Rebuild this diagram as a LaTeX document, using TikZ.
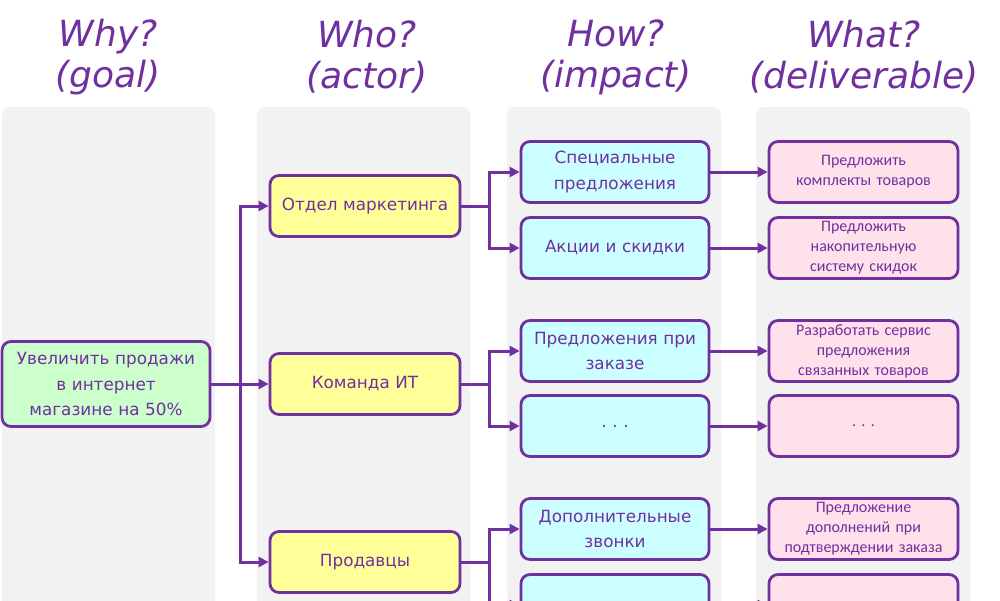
\documentclass[tikz,border=0pt]{standalone}
\usepackage{fontspec}
\setmainfont{DejaVu Sans}
\newfontfamily\delfont{Carlito}
\newfontfamily\hdrfont{DejaVu Sans}
\usetikzlibrary{arrows.meta,calc}
\definecolor{purp}{HTML}{7030A0}
\definecolor{panelgray}{HTML}{F2F2F2}
\definecolor{goalfill}{HTML}{CCFFCC}
\definecolor{actorfill}{HTML}{FFFF99}
\definecolor{impfill}{HTML}{CCFFFF}
\definecolor{delfill}{HTML}{FFE1EB}
\tikzset{
  panel/.style={fill=panelgray,draw=none,rounded corners=8pt},
  hdr/.style={text=purp,font=\hdrfont\itshape\fontsize{36}{41}\selectfont,align=center,inner sep=0pt},
  boxbase/.style={draw=purp,line width=2.8pt,rounded corners=9pt,text=purp,align=center,inner sep=2pt},
  goalbox/.style={boxbase,fill=goalfill,minimum width=208pt,minimum height=85pt,text width=200pt,font=\fontsize{16.8}{25.5}\selectfont},
  actorbox/.style={boxbase,fill=actorfill,minimum width=190pt,minimum height=61pt,text width=182pt,font=\fontsize{16.8}{25.5}\selectfont},
  impbox/.style={boxbase,fill=impfill,minimum width=188pt,minimum height=61pt,text width=180pt,font=\fontsize{16.8}{25.5}\selectfont},
  delbox/.style={boxbase,fill=delfill,minimum width=189pt,minimum height=61pt,text width=181pt,font=\delfont\fontsize{16}{20}\selectfont},
  conn/.style={draw=purp,line width=3pt},
  arr/.style={conn,-{Triangle[length=10pt,width=10pt]}}
}
\begin{document}
\begin{tikzpicture}[x=1pt,y=-1pt]
\useasboundingbox (0,0) rectangle (1000,600);
\clip (0,0) rectangle (1000,600);
\fill[white] (0,0) rectangle (1000,600);
% panels
\path[panel] (2,107) rectangle (215,640);
\path[panel] (257,107) rectangle (470,640);
\path[panel] (507,107) rectangle (721,640);
\path[panel] (756,107) rectangle (970,640);
% headers
\node[hdr] (h1) at (108,57) {Why?\\(goal)};
\node[hdr] (h2) at (367,57) {Who?\\(actor)};
\node[hdr] (h3) at (616,57) {How?\\(impact)};
\node[hdr] (h4) at (864,57) {What?\\(deliverable)};
% goal
\node[goalbox] (g) at (106,384) {Увеличить продажи\\в интернет\\магазине на 50\%};
% actors
\node[actorbox] (a1) at (365,206) {Отдел маркетинга};
\node[actorbox] (a2) at (365,384) {Команда ИТ};
\node[actorbox] (a3) at (365,562) {Продавцы};
% impacts
\node[impbox] (i1) at (615,172) {Специальные\\предложения};
\node[impbox] (i2) at (615,248) {Акции и скидки};
\node[impbox] (i3) at (615,351) {Предложения при\\заказе};
\node[impbox] (i4) at (615,426) {.\ .\ .};
\node[impbox] (i5) at (615,529) {Дополнительные\\звонки};
\node[impbox] (i6) at (615,605) {};
% deliverables
\node[delbox] (d1) at (863.5,172) {Предложить\\комплекты товаров};
\node[delbox] (d2) at (863.5,248) {Предложить\\накопительную\\систему скидок};
\node[delbox] (d3) at (863.5,351) {Разработать сервис\\предложения\\связанных товаров};
\node[delbox] (d4) at (863.5,426) {.\ .\ .};
\node[delbox] (d5) at (863.5,529) {Предложение\\дополнений при\\подтверждении заказа};
\node[delbox] (d6) at (863.5,605) {};
% junctions
\coordinate (j0) at (240,384);
\coordinate (j1) at (489,206);
\coordinate (j2) at (489,384);
\coordinate (j3) at (489,562);
% connectors goal -> actors
\draw[conn] (g.east) -- (j0);
\draw[arr] (j0) |- (a1.west);
\draw[arr] (j0) -- (a2.west);
\draw[arr] (j0) |- (a3.west);
% actors -> impacts
\draw[conn] (a1.east) -- (j1);
\draw[arr] (j1) |- (i1.west);
\draw[arr] (j1) |- (i2.west);
\draw[conn] (a2.east) -- (j2);
\draw[arr] (j2) |- (i3.west);
\draw[arr] (j2) |- (i4.west);
\draw[conn] (a3.east) -- (j3);
\draw[arr] (j3) |- (i5.west);
\draw[arr] (j3) |- (i6.west);
% impacts -> deliverables
\draw[arr] (i1.east) -- (d1.west);
\draw[arr] (i2.east) -- (d2.west);
\draw[arr] (i3.east) -- (d3.west);
\draw[arr] (i4.east) -- (d4.west);
\draw[arr] (i5.east) -- (d5.west);
\draw[arr] (i6.east) -- (d6.west);
\end{tikzpicture}
\end{document}
